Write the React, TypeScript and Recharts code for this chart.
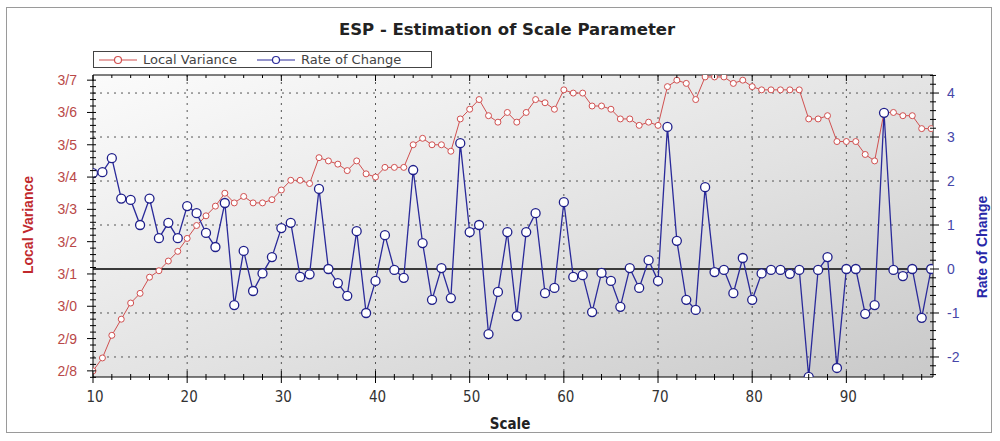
import { LineChart, Line, XAxis, YAxis, CartesianGrid, ReferenceLine } from 'recharts'

const scale = [
  10, 11, 12, 13, 14, 15, 16, 17, 18, 19, 20, 21, 22, 23, 24, 25, 26, 27, 28, 29,
  30, 31, 32, 33, 34, 35, 36, 37, 38, 39, 40, 41, 42, 43, 44, 45, 46, 47, 48, 49,
  50, 51, 52, 53, 54, 55, 56, 57, 58, 59, 60, 61, 62, 63, 64, 65, 66, 67, 68, 69,
  70, 71, 72, 73, 74, 75, 76, 77, 78, 79, 80, 81, 82, 83, 84, 85, 86, 87, 88, 89,
  90, 91, 92, 93, 94, 95, 96, 97, 98, 99,
]

const localVariance = [
  2.8, 2.84, 2.91, 2.96, 3.01, 3.04, 3.09, 3.11, 3.14, 3.17,
  3.21, 3.25, 3.28, 3.31, 3.35, 3.32, 3.34, 3.32, 3.32, 3.33,
  3.36, 3.39, 3.39, 3.38, 3.46, 3.45, 3.44, 3.42, 3.45, 3.41,
  3.4, 3.43, 3.43, 3.43, 3.5, 3.52, 3.5, 3.5, 3.48, 3.58,
  3.61, 3.64, 3.59, 3.57, 3.6, 3.57, 3.6, 3.64, 3.63, 3.61,
  3.67, 3.66, 3.66, 3.62, 3.62, 3.61, 3.58, 3.58, 3.56, 3.57,
  3.56, 3.68, 3.7, 3.69, 3.64, 3.71, 3.71, 3.71, 3.69, 3.7,
  3.68, 3.67, 3.67, 3.67, 3.67, 3.67, 3.58, 3.58, 3.59, 3.51,
  3.51, 3.51, 3.47, 3.45, 3.6, 3.6, 3.59, 3.59, 3.55, 3.55,
]

const rateOfChange = [
  2.18, 2.2, 2.52, 1.6, 1.57, 1.0, 1.6, 0.7, 1.05, 0.7,
  1.43, 1.27, 0.82, 0.5, 1.5, -0.82, 0.41, -0.5, -0.1, 0.27,
  0.93, 1.05, -0.18, -0.12, 1.82, 0.0, -0.32, -0.61, 0.86, -1.0,
  -0.27, 0.77, -0.02, -0.2, 2.25, 0.59, -0.7, 0.02, -0.66, 2.86,
  0.84, 1.0, -1.48, -0.52, 0.84, -1.07, 0.84, 1.27, -0.55, -0.43,
  1.52, -0.18, -0.14, -0.98, -0.09, -0.27, -0.86, 0.02, -0.43, 0.2,
  -0.27, 3.23, 0.64, -0.7, -0.93, 1.86, -0.07, -0.02, -0.55, 0.25,
  -0.7, -0.1, -0.02, -0.02, -0.11, -0.02, -2.45, -0.02, 0.27, -2.25,
  0.0, 0.0, -1.02, -0.82, 3.55, -0.02, -0.16, 0.0, -1.11, 0.0,
]

const scaleTicks = [10, 20, 30, 40, 50, 60, 70, 80, 90]
const lvTicks = [2.8, 2.9, 3.0, 3.1, 3.2, 3.3, 3.4, 3.5, 3.6, 3.7]
const rocTicks = [-2, -1, 0, 1, 2, 3, 4]

const data = scale.map((s, i) => ({ scale: s, lv: localVariance[i], roc: rateOfChange[i] }))

// minor tick positions (major ones are every 5th)
const xMinor: number[] = []
for (let v = 10; v <= 98; v += 2) xMinor.push(v)
const lvMinor: number[] = []
for (let k = 139; k <= 185; k++) lvMinor.push(k / 50)
const rocMinor: number[] = []
for (let k = -12; k <= 22; k++) rocMinor.push(k / 5)

const sans = '"Liberation Sans", Arial, sans-serif'
const wide = '"DejaVu Sans", Verdana, sans-serif'
const narrow = '"Liberation Sans Narrow", "Arial Narrow", "DejaVu Sans Condensed", "Liberation Sans", sans-serif'

const PLOT_TOP = 75
const PLOT_H = 302

const isMajor = (v: number, step: number) => Math.abs(v / step - Math.round(v / step)) < 1e-6

// bottom axis tick; also mirrors the tick mark onto the top border of the plot
const BottomTick = ({ x, y, payload }: any) => {
  const major = isMajor(payload.value, 10)
  const len = major ? 6 : 3
  const top = y - PLOT_H
  return (
    <g>
      <line x1={x} x2={x} y1={y - len} y2={y + len} stroke="#000" />
      <line x1={x} x2={x} y1={top} y2={top + (major ? 6 : 3)} stroke="#000" />
      {major && (
        <text x={x + 2} y={y + 25} textAnchor="middle" fontSize={15} fill="#333" fontFamily={narrow}>
          {payload.value}
        </text>
      )}
    </g>
  )
}

const LeftTick = ({ x, y, payload }: any) => {
  const major = isMajor(payload.value, 0.1)
  return (
    <g>
      <line x1={major ? x - 6 : x - 3} x2={x + 3} y1={y} y2={y} stroke="#000" />
      {major && (
        <text x={x - 16} y={y} dy={5} textAnchor="end" fontSize={14} fill="#b94848" fontFamily={sans}>
          {payload.value.toFixed(1).replace('.', '/')}
        </text>
      )}
    </g>
  )
}

const RightTick = ({ x, y, payload }: any) => {
  const major = isMajor(payload.value, 1)
  return (
    <g>
      <line x1={x - 3} x2={major ? x + 6 : x + 3} y1={y} y2={y} stroke="#000" />
      {major && (
        <text x={x + 14} y={y} dy={5} textAnchor="start" fontSize={14} fill="#4646a8" fontFamily={sans}>
          {payload.value}
        </text>
      )}
    </g>
  )
}

const LegendMarker = ({ color }: { color: string }) => (
  <svg width={38} height={10} style={{ display: 'block' }}>
    <line x1={0} x2={38} y1={5} y2={5} stroke={color} strokeWidth={1.2} />
    <circle cx={19} cy={5} r={3.5} fill="#fff" stroke={color} strokeWidth={1.2} />
  </svg>
)

export default function App() {
  return (
    <div style={{ position: 'relative', width: 1000, height: 441, background: '#fff', overflow: 'hidden' }}>
      <style>{'body{margin:0}'}</style>
      <div
        style={{
          position: 'absolute', left: 6, top: 7, width: 986, height: 426,
          border: '1px solid #9a9a9a', boxSizing: 'border-box',
        }}
      />
      <div
        style={{
          position: 'absolute', left: 507, top: 29, transform: 'translate(-50%, -50%)',
          fontFamily: wide, fontWeight: 'bold', fontSize: 16.5, color: '#222', whiteSpace: 'nowrap',
        }}
      >
        ESP - Estimation of Scale Parameter
      </div>

      <div
        style={{
          position: 'absolute', left: 93, top: 51, width: 339, height: 17, boxSizing: 'border-box',
          border: '1px solid #444', background: '#fff', display: 'flex', alignItems: 'center',
          paddingLeft: 5, fontFamily: wide, fontSize: 13, color: '#444',
        }}
      >
        <LegendMarker color="#d05050" />
        <span style={{ marginLeft: 6 }}>Local Variance</span>
        <span style={{ marginLeft: 20 }}>
          <LegendMarker color="#2a2a9a" />
        </span>
        <span style={{ marginLeft: 6 }}>Rate of Change</span>
      </div>

      <div style={{ position: 'absolute', left: 0, top: 0 }}>
        <LineChart width={1000} height={441} data={data} margin={{ top: PLOT_TOP, right: 7, bottom: 34, left: 23 }}>
          <defs>
            <linearGradient id="plotBg" x1="0" y1="0" x2="1" y2="1">
              <stop offset="0%" stopColor="#fbfbfb" />
              <stop offset="55%" stopColor="#e2e2e2" />
              <stop offset="100%" stopColor="#c9c9c9" />
            </linearGradient>
          </defs>
          <CartesianGrid
            yAxisId="right"
            fill="url(#plotBg)"
            stroke="#555"
            strokeDasharray="2 5"
            verticalValues={scaleTicks.slice(1)}
            horizontalValues={rocTicks}
          />
          <XAxis
            dataKey="scale"
            type="number"
            domain={[10, 99.2]}
            ticks={xMinor}
            interval={0}
            height={30}
            tickSize={0}
            tickMargin={0}
            tick={<BottomTick />}
            axisLine={{ stroke: '#000' }}
            tickLine={false}
            allowDataOverflow
          />
          <YAxis
            yAxisId="left"
            type="number"
            domain={[2.781, 3.716]}
            ticks={lvMinor}
            interval={0}
            width={70}
            tickSize={0}
            tickMargin={0}
            tick={<LeftTick />}
            axisLine={{ stroke: '#000' }}
            tickLine={false}
            allowDataOverflow
          />
          <YAxis
            yAxisId="right"
            orientation="right"
            type="number"
            domain={[-2.455, 4.41]}
            ticks={rocMinor}
            interval={0}
            width={60}
            tickSize={0}
            tickMargin={0}
            tick={<RightTick />}
            axisLine={{ stroke: '#000' }}
            tickLine={false}
            allowDataOverflow
          />
          <ReferenceLine yAxisId="right" y={4.41} stroke="#000" strokeWidth={1} />
          <ReferenceLine yAxisId="right" y={0} stroke="#3a3a3a" strokeWidth={2} />
          <Line
            yAxisId="left"
            type="linear"
            dataKey="lv"
            stroke="#d05050"
            strokeWidth={1}
            dot={{ r: 3, fill: '#fff', stroke: '#d05050', strokeWidth: 1 }}
            isAnimationActive={false}
          />
          <Line
            yAxisId="right"
            type="linear"
            dataKey="roc"
            stroke="#2a2a9a"
            strokeWidth={1.3}
            dot={{ r: 4.5, fill: '#fff', stroke: '#1f1f8a', strokeWidth: 1.3 }}
            isAnimationActive={false}
          />
        </LineChart>
      </div>

      <div
        style={{
          position: 'absolute', left: 28, top: 225, transform: 'translate(-50%, -50%) rotate(-90deg)',
          fontFamily: sans, fontWeight: 'bold', fontSize: 14, color: '#c0282d', whiteSpace: 'nowrap',
        }}
      >
        Local Variance
      </div>
      <div
        style={{
          position: 'absolute', left: 982, top: 247, transform: 'translate(-50%, -50%) rotate(-90deg)',
          fontFamily: sans, fontWeight: 'bold', fontSize: 14, color: '#2828a8', whiteSpace: 'nowrap',
        }}
      >
        Rate of Change
      </div>
      <div
        style={{
          position: 'absolute', left: 510, top: 424, transform: 'translate(-50%, -50%)',
          fontFamily: narrow, fontWeight: 'bold', fontSize: 15, color: '#222', whiteSpace: 'nowrap',
        }}
      >
        Scale
      </div>
    </div>
  )
}
